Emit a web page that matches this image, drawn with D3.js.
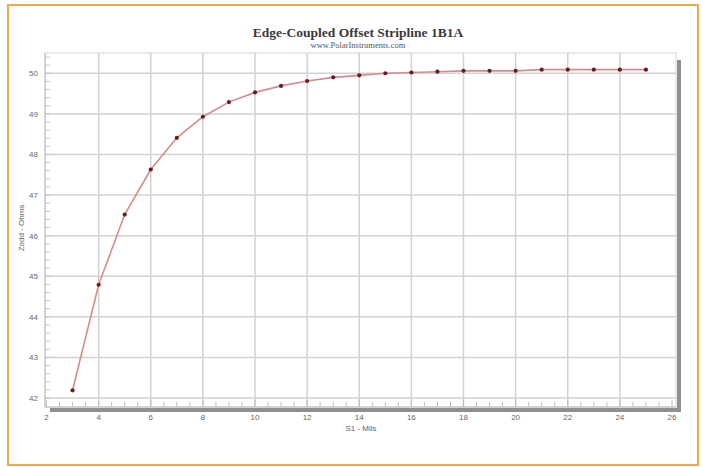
<!DOCTYPE html>
<html><head><meta charset="utf-8">
<script src="https://cdn.jsdelivr.net/npm/d3@7"></script>
<style>body{margin:0;background:#fff}svg{display:block}</style>
</head><body>
<script>
const titleText = "Edge-Coupled Offset Stripline 1B1A";
const subtitleText = "www.PolarInstruments.com";
const xTitle = "S1 - Mils";
const yTitle = "Zodd - Ohms";
const s1Mils = [3,4,5,6,7,8,9,10,11,12,13,14,15,16,17,18,19,20,21,22,23,24,25];
const zoddOhms = [42.19,44.79,46.52,47.63,48.41,48.93,49.29,49.53,49.69,49.81,49.90,49.95,50.00,50.02,50.04,50.06,50.06,50.06,50.09,50.09,50.09,50.09,50.09];
const xTickValues = [2,4,6,8,10,12,14,16,18,20,22,24,26];
const yTickValues = [42,43,44,45,46,47,48,49,50];

const W = 703, H = 467;
const svg = d3.select("body").append("svg").attr("width", W).attr("height", H);

// outer frame
svg.append("rect").attr("x", 8).attr("y", 5).attr("width", 690).attr("height", 460)
  .attr("fill", "#fff").attr("stroke", "#ecaa50").attr("stroke-width", 2);

const P = {l: 45, t: 53, r: 676, b: 407};
const x = d3.scaleLinear().domain([2, 26]).range([46.5, 672]);
const y = d3.scaleLinear().domain([42, 50]).range([398, 73.3]);

// shadow
svg.append("rect").attr("x", 50).attr("y", P.b + 1).attr("width", P.r + 5 - 50).attr("height", 4).attr("fill", "#8f8f8f");
svg.append("rect").attr("x", P.r + 1).attr("y", P.t + 7).attr("width", 4).attr("height", P.b + 5 - P.t - 7).attr("fill", "#8f8f8f");

// plot background
svg.append("rect").attr("x", P.l).attr("y", P.t).attr("width", P.r - P.l).attr("height", P.b - P.t)
  .attr("fill", "#fff").attr("stroke", "#d4d4d4").attr("stroke-width", 1);

// grid
const g = svg.append("g");
g.selectAll(".vg").data(xTickValues.filter(v => v > 2 && v < 26)).join("line")
  .attr("x1", d => x(d)).attr("x2", d => x(d)).attr("y1", P.t).attr("y2", P.b)
  .attr("stroke", "#d2d2d2").attr("stroke-width", 1.5);
g.selectAll(".hg").data(yTickValues).join("line")
  .attr("x1", P.l).attr("x2", P.r).attr("y1", d => y(d)).attr("y2", d => y(d))
  .attr("stroke", "#d2d2d2").attr("stroke-width", 1.5);

// axes lines
svg.append("line").attr("x1", P.l).attr("x2", P.l).attr("y1", P.t).attr("y2", P.b).attr("stroke", "#bdbdbd");
svg.append("line").attr("x1", P.l).attr("x2", P.r).attr("y1", P.b).attr("y2", P.b).attr("stroke", "#bdbdbd");

// minor ticks
const xMinor = d3.range(2, 26.01, 0.5);
svg.append("g").selectAll("line").data(xMinor).join("line")
  .attr("x1", d => x(d)).attr("x2", d => x(d)).attr("y1", P.b).attr("y2", d => P.b - (d % 2 === 0 ? 7 : 5))
  .attr("stroke", "#bdbdbd").attr("stroke-width", 1);
const yMinor = d3.range(42, 50.41, 0.2);
svg.append("g").selectAll("line").data(yMinor).join("line")
  .attr("x1", P.l).attr("x2", P.l + 5).attr("y1", d => y(d)).attr("y2", d => y(d))
  .attr("stroke", "#c4c4c4").attr("stroke-width", 1);

// tick labels
svg.append("g").selectAll("text").data(yTickValues).join("text")
  .attr("x", 38).attr("y", d => y(d) + 3).attr("text-anchor", "end")
  .attr("font-family", "Liberation Sans, Arial, sans-serif").attr("font-size", 8).attr("fill", "#666")
  .text(d => d);
svg.append("g").selectAll("text").data(xTickValues).join("text")
  .attr("x", d => x(d)).attr("y", 420).attr("text-anchor", "middle")
  .attr("font-family", "Liberation Sans, Arial, sans-serif").attr("font-size", 8).attr("fill", "#666")
  .text(d => d);

// axis titles
svg.append("text").attr("x", 361).attr("y", 431).attr("text-anchor", "middle")
  .attr("font-family", "Liberation Sans, Arial, sans-serif").attr("font-size", 8).attr("fill", "#666").text(xTitle);
svg.append("text").attr("transform", "translate(24,228) rotate(-90)").attr("text-anchor", "middle")
  .attr("font-family", "Liberation Sans, Arial, sans-serif").attr("font-size", 8).attr("fill", "#666").text(yTitle);

// titles
svg.append("text").attr("x", 358).attr("y", 37).attr("text-anchor", "middle")
  .attr("font-family", "Liberation Serif, Times New Roman, serif").attr("font-weight", "bold").attr("font-size", 13.5).attr("fill", "#3a3a3a").text(titleText);
svg.append("text").attr("x", 358).attr("y", 48).attr("text-anchor", "middle")
  .attr("font-family", "Liberation Serif, Times New Roman, serif").attr("font-size", 8.5).attr("fill", "#555").text(subtitleText);

// series
const data = s1Mils.map((v, i) => [v, zoddOhms[i]]);
svg.append("path").datum(data)
  .attr("d", d3.line().x(d => x(d[0])).y(d => y(d[1])))
  .attr("fill", "none").attr("stroke", "#d48c8c").attr("stroke-width", 1.6);
svg.append("g").selectAll("circle").data(data).join("circle")
  .attr("cx", d => x(d[0])).attr("cy", d => y(d[1])).attr("r", 2.1)
  .attr("fill", "#6a1c20");
</script>
</body></html>
